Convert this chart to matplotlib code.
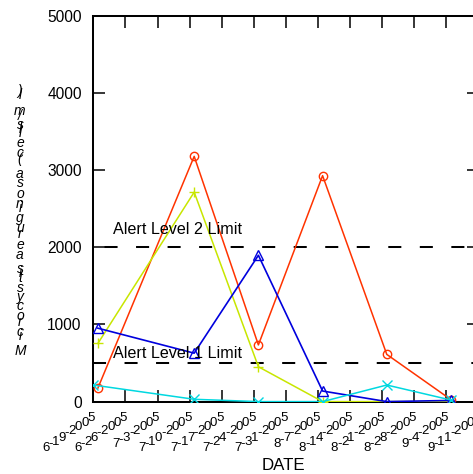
import numpy as np
import matplotlib
matplotlib.use('Agg')
from matplotlib import pyplot as plt
import matplotlib.transforms as mtransforms
from matplotlib.font_manager import FontProperties, findfont, get_font

fonts = ['Liberation Sans Narrow', 'Liberation Sans', 'DejaVu Sans']
plt.rcParams['font.family'] = fonts
plt.rcParams['lines.scale_dashes'] = False

# sampling dates
dates_main = np.array(['2005-06-20', '2005-07-11', '2005-07-25',
                       '2005-08-08', '2005-08-22', '2005-09-05'], dtype='datetime64[D]')
dates_cyan = np.array(['2005-06-19', '2005-07-11', '2005-07-25',
                       '2005-08-08', '2005-08-22', '2005-09-05'], dtype='datetime64[D]')

red_vals = [175, 3180, 735, 2930, 612, 25]
blue_vals = [952, 628, 1897, 137, 0, 15]
green_vals = [754, 2716, 452, 0, 0, 0]
cyan_vals = [215, 30, 0, 0, 215, 20]

alert_levels = [500, 2000]
alert_labels = ['Alert Level 1 Limit', 'Alert Level 2 Limit']
alert_text_y = [560, 2168]

tick_dates = np.arange(np.datetime64('2005-06-19'), np.datetime64('2005-09-12'),
                       np.timedelta64(7, 'D'))
ylabel = 'Microcystis aeruginosa (cells/ml)'


def glyph_advances(s, fp):
    font = get_font(findfont(fp))
    font.set_size(fp.get_size_in_points(), 72)
    return np.array([font.load_char(ord(c)).linearHoriAdvance / 65536 for c in s])


W, H = 473, 474
fig = plt.figure(figsize=(W / 100, H / 100), dpi=100)
ax = fig.add_axes([93.3 / W, 1 - 401.6 / H, 385.2 / W, 385.6 / H])

ax.plot(dates_main, red_vals, color='#ff3300', lw=1.1, marker='o', ms=6,
        mfc='none', mew=1.0, zorder=3)
ax.plot(dates_main, green_vals, color='#c8e600', lw=1.1, marker='+', ms=7.5,
        mew=1.0, markevery=[0, 1, 2, 3], zorder=3)
ax.plot(dates_main, blue_vals, color='#0000dd', lw=1.2, marker='^', ms=7.2,
        mfc='none', mew=1.0, zorder=3)
ax.plot(dates_cyan, cyan_vals, color='#00d8e0', lw=1.1, marker='x', ms=7.2,
        mew=1.0, zorder=3)

# alert lines
ax.axhline(alert_levels[0], color='k', lw=1.45, linestyle=(0, (9.4, 13.3)), zorder=2)
ax.axhline(alert_levels[1], color='k', lw=1.45, linestyle=(14.4, (9.4, 13.3)), zorder=2)
btrans = mtransforms.blended_transform_factory(ax.transAxes, ax.transData)
for lab, ty in zip(alert_labels, alert_text_y):
    ax.text(0.052, ty, lab, transform=btrans, fontsize=11.6, ha='left', va='baseline')

ax.set_xlim(tick_dates[0], tick_dates[-1])
ax.set_ylim(0, 5000)
ax.set_yticks(np.arange(0, 5001, 1000))
ax.set_xticks(tick_dates)
ax.set_xticklabels([])
ax.tick_params(axis='both', direction='in', length=8.6, width=1.1, color='k',
               top=True, right=True)
ax.tick_params(axis='y', labelsize=11.2, pad=8.4)
for sp in ax.spines.values():
    sp.set_linewidth(1.45)

# x tick labels: upright glyphs along a slanted baseline
fp_tick = FontProperties(family=fonts, size=9.5)
ref = glyph_advances('6-19-2005', fp_tick)
ref_cum = np.concatenate([[0], np.cumsum(ref)[:-1]])
kx = (38.2 - ref[-1]) / ref_cum[-1]
ky = 21.6 / ref_cum[-1]
xtrans = ax.get_xaxis_transform()
for t, d in zip(ax.get_xticks(), tick_dates.astype(object)):
    lab = f'{d.month}-{d.day}-{d.year}'
    adv = glyph_advances(lab, fp_tick)
    cum = np.concatenate([[0], np.cumsum(adv)[:-1]])
    total_x = cum[-1] * kx + adv[-1]
    for c, p in zip(lab, cum):
        dx = p * kx - total_x + 1.2
        dy = -14.3 + (p - cum[-1]) * ky
        tr = mtransforms.offset_copy(xtrans, fig=fig, x=dx, y=dy, units='points')
        ax.text(t, 0, c, transform=tr, fontproperties=fp_tick,
                ha='left', va='baseline', clip_on=False)

# y label: upright glyphs stacked bottom to top
fp_lab = FontProperties(family=fonts, size=10, style='italic')
adv = glyph_advances(ylabel, fp_lab)
cum = np.concatenate([[0], np.cumsum(adv)[:-1]])
k_lab = 187.0 / cum[-1]
for c, p in zip(ylabel, cum):
    if c == ' ':
        continue
    tr = mtransforms.offset_copy(fig.transFigure, fig=fig, x=0, y=p * k_lab, units='points')
    fig.text(20 / W, 1 - 355 / H, c, transform=tr, fontproperties=fp_lab,
             ha='center', va='baseline')

ax.set_xlabel('DATE', fontsize=12.2)
ax.xaxis.set_label_coords(0.4925, -0.178)
ax.xaxis.label.set_va('baseline')

fig.savefig('out.png', dpi=100)
